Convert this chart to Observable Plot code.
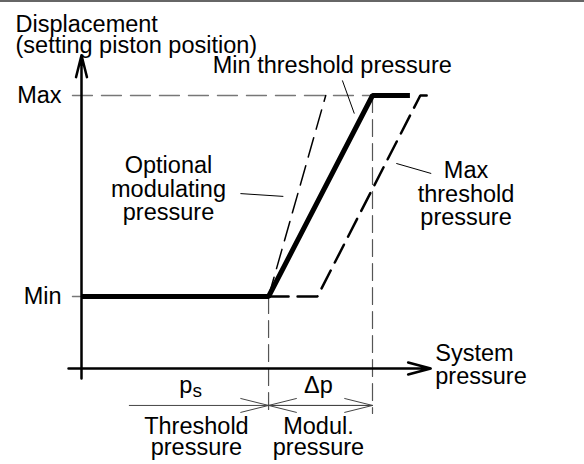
<!DOCTYPE html>
<html>
<head>
<meta charset="utf-8">
<script src="https://cdn.jsdelivr.net/npm/d3@7"></script>
<script src="https://cdn.jsdelivr.net/npm/@observablehq/plot@0.6"></script>
<style>
  html, body { margin: 0; padding: 0; background: #fff; }
  #chart svg { display: block; }
</style>
</head>
<body>
<div id="chart"></div>
<script>
// ---- Data (schematic units: pressure on x, displacement on y; Min = 0, Max = 1) ----
const thresholdPressure = 1.8;   // p_s
const modulPressure = 1.0;       // Δp
const levelNames = ["Min", "Max"];
const levelValues = [0, 1];

// Min threshold pressure curve (thick solid)
const minCurveX = [0, 1.8, 2.8, 3.16];
const minCurveY = [0, 0, 1, 1];
// Optional modulating pressure curve (thin dashed)
const optCurveX = [1.8, 2.35];
const optCurveY = [0, 1];
// Max threshold pressure curve (dashed)
const maxCurveX = [1.8, 2.27, 3.26, 3.4];
const maxCurveY = [0, 0, 1, 1];

// Axis extents
const xAxisX = [-0.125, 3.36];
const xAxisY = -0.358;
const yAxisY = [-0.408, 1.2];
// Dimension line level and guide bottoms
const dimY = -0.542;
const dimStartX = 0.46;
const guideBottom = -0.582;
const tickStartX = -0.087;

// Leader lines [x1, y1, x2, y2]
const leaderX1 = [2.51, 1.529, 3.029];
const leaderY1 = [1.075, 0.512, 0.662];
const leaderX2 = [2.625, 1.942, 3.365];
const leaderY2 = [0.910, 0.498, 0.612];

// Text labels
const yTitle = "Displacement\n(setting piston position)";
const xTitle = "System\npressure";
const curveLabels = ["Min threshold pressure", "Optional\nmodulating\npressure", "Max\nthreshold\npressure"];
const curveLabelX = [2.413, 0.837, 3.70];
const curveLabelY = [1.114, 0.383, 0.358];
const curveLabelAnchor = ["start", "middle", "middle"];
const dimLabels = ["Threshold\npressure", "Modul.\npressure"];
const dimLabelX = [1.106, 2.28];
const dimLabelY = -0.791;
const symbolY = -0.478;

// ---- Build tables ----
const pts = (xs, ys) => xs.map((x, i) => ({x, y: ys[i]}));
const font = "Liberation Sans, Arial, Helvetica, sans-serif";
const fs = 23.5;
const ps = thresholdPressure, pe = thresholdPressure + modulPressure;

const leaders = leaderX1.map((x1, i) => ({x1, y1: leaderY1[i], x2: leaderX2[i], y2: leaderY2[i]}));
const curveLabelData = curveLabels.map((t, i) => ({t, x: curveLabelX[i], y: curveLabelY[i], a: curveLabelAnchor[i]}));

const plot = Plot.plot({
  width: 584,
  height: 464,
  margin: 0,
  x: {domain: [0, 2.8], range: [81, 372], axis: null},
  y: {domain: [0, 1], range: [296, 95], axis: null},
  marks: [
    Plot.frame({anchor: "top", stroke: "#666", strokeWidth: 3}),
    // Max level dashed guide + Min tick
    Plot.line(pts([tickStartX, pe], [1, 1]), {x: "x", y: "y", stroke: "#777", strokeWidth: 1.3, strokeDasharray: "20,9"}),
    Plot.line(pts([tickStartX, 0], [0, 0]), {x: "x", y: "y", stroke: "#777", strokeWidth: 1.3}),
    // Vertical dashed guides
    Plot.line(pts([ps, ps], [0, guideBottom]), {x: "x", y: "y", stroke: "#555", strokeWidth: 1.2, strokeDasharray: "17,7"}),
    Plot.line(pts([pe, pe], [1, guideBottom]), {x: "x", y: "y", stroke: "#555", strokeWidth: 1.2, strokeDasharray: "17,7"}),
    // Optional modulating curve
    Plot.line(pts(optCurveX, optCurveY), {x: "x", y: "y", stroke: "#000", strokeWidth: 1.5, strokeDasharray: "20,9"}),
    // Max threshold curve
    Plot.line(pts(maxCurveX, maxCurveY), {x: "x", y: "y", stroke: "#000", strokeWidth: 2.5, strokeDasharray: "20,9", strokeLinejoin: "miter"}),
    // Min threshold curve (thick)
    Plot.line(pts(minCurveX, minCurveY), {x: "x", y: "y", stroke: "#000", strokeWidth: 5, strokeLinejoin: "miter", strokeLinecap: "butt"}),
    // Axes with arrowheads
    Plot.arrow([{x1: xAxisX[0], y1: xAxisY, x2: xAxisX[1], y2: xAxisY}], {x1: "x1", y1: "y1", x2: "x2", y2: "y2", stroke: "#000", strokeWidth: 2.5, headLength: 14, headAngle: 30}),
    Plot.arrow([{x1: 0, y1: yAxisY[0], x2: 0, y2: yAxisY[1]}], {x1: "x1", y1: "y1", x2: "x2", y2: "y2", stroke: "#000", strokeWidth: 2.5, headLength: 13.5, headAngle: 28}),
    // Dimension arrows
    Plot.arrow([
      {x1: dimStartX, y1: dimY, x2: ps, y2: dimY},
      {x1: pe, y1: dimY, x2: ps, y2: dimY},
      {x1: ps, y1: dimY, x2: pe, y2: dimY}
    ], {x1: "x1", y1: "y1", x2: "x2", y2: "y2", stroke: "#444", strokeWidth: 1, headLength: 43, headAngle: 28}),
    // Leader lines
    Plot.link(leaders, {x1: "x1", y1: "y1", x2: "x2", y2: "y2", stroke: "#000", strokeWidth: 1}),
    // Level labels
    Plot.text(levelNames, {x: () => -0.192, y: (d, i) => levelValues[i], text: d => d, textAnchor: "end", lineAnchor: "middle", fontSize: fs, fontFamily: font, fill: "#000"}),
    // Axis titles
    Plot.text([yTitle], {x: () => -0.635, y: () => 1.209, text: d => d, textAnchor: "start", lineAnchor: "bottom", lineHeight: 0.915, fontSize: fs, fontFamily: font, fill: "#000"}),
    Plot.text([xTitle], {x: () => 3.404, y: () => -0.433, text: d => d, textAnchor: "start", lineAnchor: "bottom", lineHeight: 0.98, fontSize: fs, fontFamily: font, fill: "#000"}),
    // Curve labels
    Plot.text(curveLabelData, {x: "x", y: "y", text: "t", textAnchor: d => d.a, lineAnchor: "bottom", lineHeight: 0.98, fontSize: fs, fontFamily: font, fill: "#000"}),
    // Symbols p_s and Δp
    Plot.text(["p"], {x: () => 1.067, y: () => symbolY, text: d => d, textAnchor: "end", lineAnchor: "bottom", fontSize: fs, fontFamily: font, fill: "#000"}),
    Plot.text(["s"], {x: () => 1.067, y: () => -0.502, text: d => d, textAnchor: "start", lineAnchor: "bottom", fontSize: 19, fontFamily: font, fill: "#000"}),
    Plot.text(["Δp"], {x: () => (ps + pe) / 2 - 0.02, y: () => symbolY, text: d => d, textAnchor: "middle", lineAnchor: "bottom", fontSize: fs, fontFamily: font, fill: "#000"}),
    // Dimension labels
    Plot.text(dimLabels, {x: (d, i) => dimLabelX[i], y: () => dimLabelY, text: d => d, textAnchor: "middle", lineAnchor: "bottom", lineHeight: 0.936, fontSize: fs, fontFamily: font, fill: "#000"})
  ]
});
document.getElementById("chart").appendChild(plot);
</script>
</body>
</html>
